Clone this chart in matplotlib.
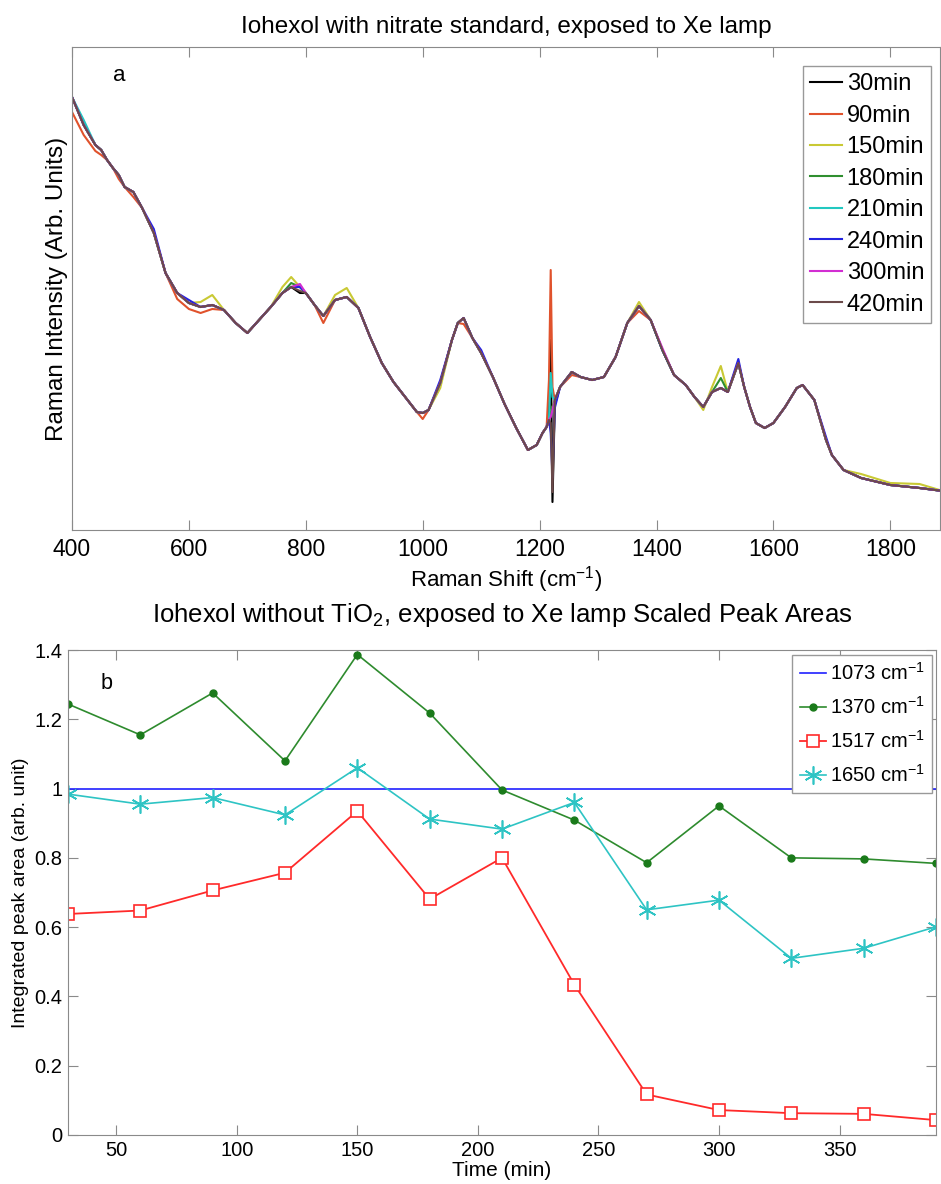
import numpy as np
import matplotlib
matplotlib.use("Agg")
import matplotlib.pyplot as plt
from matplotlib.ticker import FuncFormatter

plt.rcParams['font.family'] = ['Liberation Sans', 'DejaVu Sans']
plt.rcParams['mathtext.fontset'] = 'custom'
plt.rcParams['mathtext.rm'] = 'Liberation Sans'

# ---------------- panel a data ----------------
shift = [400, 420, 440, 450, 460, 470, 480, 490, 505, 520, 540, 560, 580, 600, 620,
         640, 660, 680, 700, 720, 740, 760, 775, 790, 800, 815, 830, 850, 870, 890,
         910, 930, 950, 970, 990, 1000, 1010, 1030, 1050, 1060, 1070, 1085, 1100,
         1120, 1140, 1160, 1180, 1195, 1205, 1212, 1216, 1219, 1222, 1226, 1235,
         1255, 1270, 1290, 1310, 1330, 1350, 1370, 1390, 1410, 1430, 1450, 1465,
         1480, 1495, 1510, 1522, 1540, 1550, 1560, 1570, 1585, 1600, 1620, 1640,
         1650, 1670, 1690, 1700, 1720, 1750, 1800, 1850, 1890]
base_intensity = [433, 405, 385, 380, 370, 362, 355, 343, 338, 322, 297, 257, 237, 227, 223,
                  225, 220, 207, 197, 210, 223, 237, 243, 243, 237, 225, 214, 230, 233, 222,
                  193, 167, 148, 133, 118, 117, 120, 147, 190, 207, 212, 192, 177,
                  153, 126, 102, 80, 85, 97, 103, 110, 117, 123, 130, 143,
                  158, 153, 150, 153, 173, 207, 224, 210, 180, 155, 145, 133,
                  123, 138, 142, 138, 167, 143, 123, 107, 102, 107, 123, 142,
                  145, 130, 90, 75, 60, 52, 45, 42, 39]

labels = ['30min', '90min', '150min', '180min', '210min', '240min', '300min', '420min']
colors = ['#000000', '#e0522c', '#c9c934', '#2f8f2f', '#22c8c0', '#2424e0', '#d22ed2', '#6b4a4a']
# per-spectrum departures from the common trace (same units), read at given shifts
dev_30 = {790: -6, 1216: 5, 1219: 73, 1222: -95, 1226: -5}
dev_90 = {400: -15, 420: -10, 440: -6, 450: -5, 480: -4, 505: -5, 580: -6, 600: -6,
          620: -6, 640: -4, 830: -7, 1000: -6, 1070: -6, 1216: 40, 1219: 143,
          1222: 20, 1255: -3, 1370: -5}
dev_150 = {620: 5, 640: 10, 760: 6, 775: 10, 850: 5, 870: 9, 1030: -5, 1370: 4,
           1480: -3, 1495: 5, 1510: 22, 1750: 4, 1800: 2, 1850: 4}
dev_180 = {775: 4, 1510: 10}
dev_210 = {420: 5, 1219: 40, 1222: 10}
dev_240 = {540: 4, 600: 3, 1030: 3, 1100: 3, 1219: -20, 1222: -70, 1226: -8,
           1540: 4, 1690: 3}
dev_300 = {790: 3, 1219: -4, 1222: -3, 1410: 2}
dev_420 = {790: -4, 1219: -10, 1222: -85}
devs = [dev_30, dev_90, dev_150, dev_180, dev_210, dev_240, dev_300, dev_420]

# ---------------- panel b data ----------------
time_min = [30, 60, 90, 120, 150, 180, 210, 240, 270, 300, 330, 360, 390]
area_1073 = [1, 1, 1, 1, 1, 1, 1, 1, 1, 1, 1, 1, 1]
area_1370 = [1.244, 1.155, 1.276, 1.08, 1.387, 1.218, 0.996, 0.909, 0.786, 0.95, 0.80, 0.797, 0.784]
area_1517 = [0.638, 0.648, 0.706, 0.757, 0.935, 0.681, 0.80, 0.434, 0.117, 0.072, 0.063, 0.061, 0.043]
area_1650 = [0.984, 0.955, 0.974, 0.924, 1.06, 0.912, 0.883, 0.96, 0.65, 0.678, 0.51, 0.539, 0.601]

W, H = 941, 1184
fig = plt.figure(figsize=(W / 100, H / 100), dpi=100)

def rect(l, t, r, b):
    return [l / W, 1 - b / H, (r - l) / W, (b - t) / H]

spine_col = '#8a8a8a'

# ---------------- panel a ----------------
ax1 = fig.add_axes(rect(72, 47, 940, 530))
for lab, col, dv in zip(labels, colors, devs):
    y = [b + dv.get(s, 0) for s, b in zip(shift, base_intensity)]
    ax1.plot(shift, y, color=col, lw=1.5, label=lab)
ax1.set_xlim(400, 1885)
ax1.set_ylim(0, 483)
ax1.set_yticks([])
ax1.set_xticks([400, 600, 800, 1000, 1200, 1400, 1600, 1800])
ax1.tick_params(axis='x', direction='in', top=True, length=7, labelsize=16.5, color=spine_col, pad=6)
for sp in ax1.spines.values():
    sp.set_color(spine_col)
ax1.set_xlabel('Raman Shift (cm$^{-1}$)', fontsize=16, labelpad=2)
ax1.set_ylabel('Raman Intensity (Arb. Units)', fontsize=17.5, labelpad=3)
ax1.set_title('Iohexol with nitrate standard, exposed to Xe lamp', fontsize=17.5, pad=10)
ax1.text(0.047, 0.94, 'a', transform=ax1.transAxes, fontsize=16, va='center')
leg1 = ax1.legend(loc='upper right', bbox_to_anchor=(0.99, 0.96), fontsize=17,
                  handlelength=1.35, handletextpad=0.2, labelspacing=0.4,
                  borderpad=0.3, fancybox=False, framealpha=1, borderaxespad=0)
leg1.get_frame().set_edgecolor('#999999')
leg1.get_frame().set_linewidth(1.0)

# ---------------- panel b ----------------
ax2 = fig.add_axes(rect(68, 650, 936, 1135))
ax2.plot(time_min, area_1073, color='#2020ff', lw=1.2, label='1073 cm$^{-1}$')
ax2.plot(time_min, area_1370, color='#2e8b2e', lw=1.2, marker='o', ms=5,
         mfc='#1a7a1a', mec='#1a7a1a', label='1370 cm$^{-1}$')
ax2.plot(time_min, area_1517, color='#ff2a2a', lw=1.3, marker='s', ms=9,
         mfc='white', mec='#ff2a2a', mew=1.2, label='1517 cm$^{-1}$')
ax2.plot(time_min, area_1650, color='#2ec4c4', lw=1.2, marker=(6, 2, 0), ms=13,
         mec='#2ec4c4', mew=1.2, label='1650 cm$^{-1}$')
ax2.set_xlim(30, 390)
ax2.set_ylim(0, 1.4)
ax2.set_xticks([50, 100, 150, 200, 250, 300, 350])
ax2.set_yticks([0, 0.2, 0.4, 0.6, 0.8, 1.0, 1.2, 1.4])
ax2.yaxis.set_major_formatter(FuncFormatter(lambda v, p: '%g' % round(v, 2)))
ax2.tick_params(direction='in', top=True, right=True, length=7, labelsize=14.5,
                color=spine_col, pad=4)
for sp in ax2.spines.values():
    sp.set_color(spine_col)
ax2.set_xlabel('Time (min)', fontsize=15, labelpad=1)
ax2.set_ylabel('Integrated peak area (arb. unit)', fontsize=14, labelpad=4)
ax2.set_title('Iohexol without TiO$_2$, exposed to Xe lamp Scaled Peak Areas', fontsize=18.5, pad=20)
ax2.text(0.037, 0.93, 'b', transform=ax2.transAxes, fontsize=15.5, va='center')
leg2 = ax2.legend(loc='upper right', bbox_to_anchor=(0.995, 0.99), fontsize=14.5,
                  handlelength=1.3, handletextpad=0.2, labelspacing=0.6,
                  borderpad=0.35, fancybox=False, framealpha=1, borderaxespad=0)
leg2.get_frame().set_edgecolor('#999999')
leg2.get_frame().set_linewidth(1.0)

fig.savefig('out.png', dpi=100)
